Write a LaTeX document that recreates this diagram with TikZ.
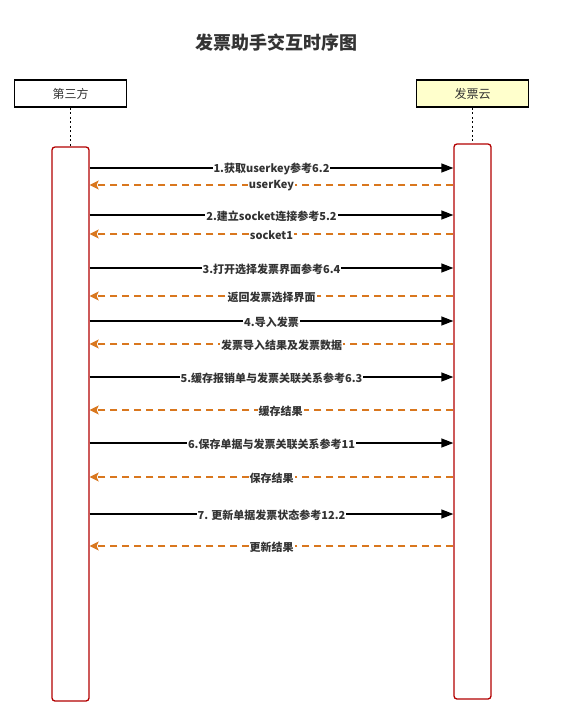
\documentclass[tikz,border=0pt]{standalone}
\usepackage{fontspec}
\newfontfamily\cjk{Noto Sans CJK SC}
\usetikzlibrary{arrows.meta}
\definecolor{replyorange}{RGB}{217,119,30}
\definecolor{barred}{RGB}{178,0,0}
\definecolor{txtgray}{RGB}{51,51,51}
\definecolor{cloudyellow}{RGB}{255,255,204}

\begin{document}
\begin{tikzpicture}[x=1pt,y=-1pt,
    every node/.style={font=\cjk, text=txtgray},
    actor/.style={draw=black, line width=1.5pt, minimum width=112pt, minimum height=27pt,
        inner sep=0pt, font=\cjk\fontsize{12}{14}\selectfont},
    bar/.style={draw=barred, line width=1.3pt, rounded corners=3pt, minimum width=37pt, inner sep=0pt},
    life/.style={line width=1.8pt, dash pattern=on 2pt off 2.5pt},
    call/.style={line width=1.3pt, -{Triangle[length=12pt,width=9pt]}},
    reply/.style={replyorange, line width=1.3pt, dash pattern=on 7pt off 5pt,
        -{Stealth[length=9pt,width=9pt,inset=2pt]}},
    msg/.style={fill=white, inner sep=1pt, yshift=-1pt, font=\cjk\bfseries\fontsize{11}{13}\selectfont}]
        \useasboundingbox (0,0) rectangle (577,709);

        % Title
        \node[font=\cjk\bfseries\fontsize{18}{21}\selectfont] (title) at (276,43) {发票助手交互时序图};

        % Draw actors
        \node[actor] (tp) at (70.5,93.5) {第三方};
        \node[actor, fill=cloudyellow] (fpy) at (472.5,93.5) {发票云};

        % Draw activation bars
        \node[bar, minimum height=554pt] (tpbar) at (70.5,424) {};
        \node[bar, minimum height=555pt] (fpybar) at (472.5,421.5) {};

        % Draw lifelines
        \draw[life] (tp) -- (tpbar);
        \draw[life] (fpy) -- (fpybar);

        % Draw calls and replies
        \foreach \ya/\ta/\yb/\tb/\sh in {
            168/{1.获取userkey参考6.2}/185/{userKey}/0,
            215/{2.建立socket连接参考5.2}/234/{socket1}/0,
            268/{3.打开选择发票界面参考6.4}/296/{返回发票选择界面}/0,
            321/{4.导入发票}/344/{发票导入结果及发票数据}/10,
            377/{5.缓存报销单与发票关联关系参考6.3}/410/{缓存结果}/9,
            443/{6.保存单据与发票关联关系参考11}/477/{保存结果}/0,
            514/{7. 更新单据发票状态参考12.2}/546/{更新结果}/0} {
            \draw[call] (tpbar.east |- 0,\ya) -- node[msg] {\ta} (fpybar.west |- 0,\ya);
            \draw[reply] (fpybar.west |- 0,\yb) -- node[msg, xshift=\sh] {\tb} (tpbar.east |- 0,\yb);
        }
    \end{tikzpicture}
\end{document}
